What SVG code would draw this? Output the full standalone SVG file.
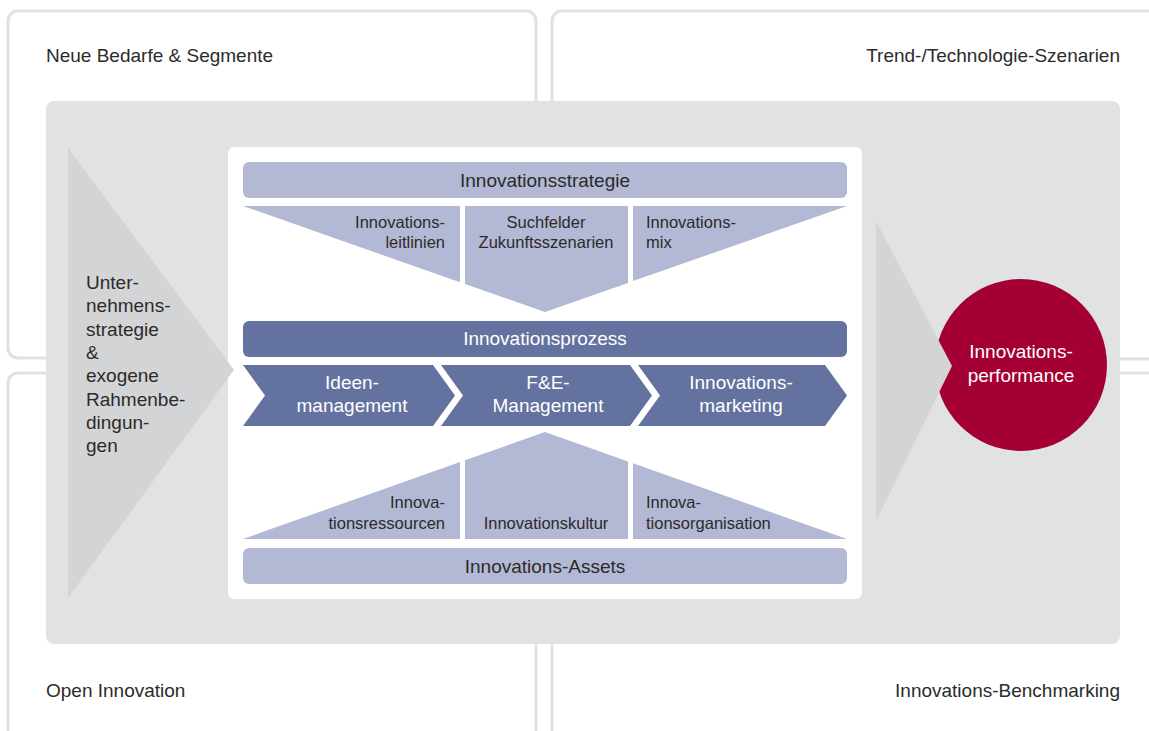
<svg xmlns="http://www.w3.org/2000/svg" width="1149" height="731" viewBox="0 0 1149 731">
<style>
text{font-family:"Liberation Sans",Arial,sans-serif;fill:#2b2b2b}
.q{fill:#fff;stroke:#e0e1e3;stroke-width:3}
.lbl{font-size:19px}
.big{font-size:19px}
.sm{font-size:16.5px}
.w{fill:#fff}
.light{fill:#b3b8d4}
.dark{fill:#64729f}
.arrow{fill:#d3d4d6}
.mid{text-anchor:middle}
.end{text-anchor:end}
</style>
<rect width="1149" height="731" fill="#fff"/>
<g id="quadrants">
<g id="q-tl"><rect class="q" x="8" y="11" width="528" height="347" rx="10"/><text class="lbl" x="46" y="62">Neue Bedarfe &amp; Segmente</text></g>
<g id="q-tr"><rect class="q" x="552" y="11" width="610" height="348" rx="10"/><text class="lbl end" x="1120" y="62">Trend-/Technologie-Szenarien</text></g>
<g id="q-bl"><rect class="q" x="8" y="373" width="528" height="380" rx="10"/><text class="lbl" x="46" y="697">Open Innovation</text></g>
<g id="q-br"><rect class="q" x="552" y="373" width="610" height="380" rx="10"/><text class="lbl end" x="1120" y="697">Innovations-Benchmarking</text></g>
</g>
<rect id="panel" x="46" y="101" width="1074" height="543" rx="8" fill="#e1e2e4"/>
<rect id="inner" x="228" y="147" width="634" height="452" rx="6" fill="#fff"/>
<g id="performance">
<circle cx="1021" cy="365" r="86" fill="#a50034"/>
<text class="big mid w" x="1021" y="358">Innovations-</text>
<text class="big mid w" x="1021" y="382">performance</text>
</g>
<g id="connectors">
<polygon class="arrow" points="68,148 234,370 68,598"/>
<polygon class="arrow" points="876,221 952,366 876,521"/>
</g>
<g id="unternehmensstrategie">
<text class="big" x="86" y="289">Unter-</text>
<text class="big" x="86" y="312.3">nehmens-</text>
<text class="big" x="86" y="335.6">strategie</text>
<text class="big" x="86" y="358.9">&amp;</text>
<text class="big" x="86" y="382.2">exogene</text>
<text class="big" x="86" y="405.5">Rahmenbe-</text>
<text class="big" x="86" y="428.8">dingun-</text>
<text class="big" x="86" y="452">gen</text>
</g>
<g id="innovationsstrategie">
<rect class="light" x="243" y="162" width="604" height="36" rx="6"/>
<text class="big mid" x="545" y="187">Innovationsstrategie</text>
</g>
<g id="leitlinien">
<polygon class="light" points="243,206 460,206 460,282.2"/>
<text class="sm end" x="445" y="228">Innovations-</text>
<text class="sm end" x="445" y="248">leitlinien</text>
</g>
<g id="suchfelder">
<polygon class="light" points="465,206 628,206 628,282.9 545,312 465,283.9"/>
<text class="sm mid" x="546" y="228">Suchfelder</text>
<text class="sm mid" x="546" y="248">Zukunftsszenarien</text>
</g>
<g id="mix">
<polygon class="light" points="633,206 847,206 633,281.1"/>
<text class="sm" x="646" y="228">Innovations-</text>
<text class="sm" x="646" y="248">mix</text>
</g>
<g id="innovationsprozess">
<rect class="dark" x="243" y="321" width="604" height="36" rx="6"/>
<text class="big mid w" x="545" y="345">Innovationsprozess</text>
</g>
<g id="ideenmanagement">
<polygon class="dark" points="243,365 433,365 455,395.5 433,426 243,426 265,395.5"/>
<text class="big mid w" x="352" y="389">Ideen-</text>
<text class="big mid w" x="352" y="412">management</text>
</g>
<g id="fe-management">
<polygon class="dark" points="441,365 630,365 652,395.5 630,426 441,426 463,395.5"/>
<text class="big mid w" x="548" y="389">F&amp;E-</text>
<text class="big mid w" x="548" y="412">Management</text>
</g>
<g id="innovationsmarketing">
<polygon class="dark" points="638,365 825,365 847,395.5 825,426 638,426 660,395.5"/>
<text class="big mid w" x="741" y="389">Innovations-</text>
<text class="big mid w" x="741" y="412">marketing</text>
</g>
<g id="ressourcen">
<polygon class="light" points="243,539 460,462.1 460,539"/>
<text class="sm end" x="445" y="508">Innova-</text>
<text class="sm end" x="445" y="529">tionsressourcen</text>
</g>
<g id="kultur">
<polygon class="light" points="465,460.3 545,432 628,461.4 628,539 465,539"/>
<text class="sm mid" x="546" y="529">Innovationskultur</text>
</g>
<g id="organisation">
<polygon class="light" points="633,463.2 847,539 633,539"/>
<text class="sm" x="646" y="508">Innova-</text>
<text class="sm" x="646" y="529">tionsorganisation</text>
</g>
<g id="innovations-assets">
<rect class="light" x="243" y="548" width="604" height="36" rx="6"/>
<text class="big mid" x="545" y="573">Innovations-Assets</text>
</g>
</svg>
